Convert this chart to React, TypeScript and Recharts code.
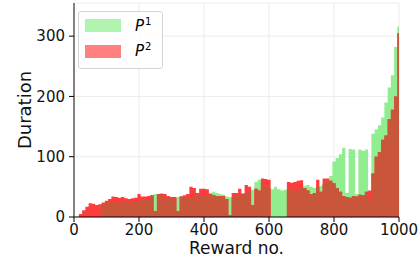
import React from 'react';
import { ComposedChart, Area, XAxis, YAxis, CartesianGrid, Legend } from 'recharts';

const rewardNo = [
  0, 10, 20, 30, 40, 50, 60, 70, 80, 90,
  100, 110, 120, 130, 140, 150, 160, 170, 180, 190,
  200, 210, 220, 230, 240, 250, 260, 270, 280, 290,
  300, 310, 320, 330, 340, 350, 360, 370, 380, 390,
  400, 410, 420, 430, 440, 450, 460, 470, 480, 490,
  500, 510, 520, 530, 540, 550, 560, 570, 580, 590,
  600, 610, 620, 630, 640, 650, 660, 670, 680, 690,
  700, 710, 720, 730, 740, 750, 760, 770, 780, 790,
  800, 810, 820, 830, 840, 850, 860, 870, 880, 890,
  900, 910, 920, 930, 940, 950, 960, 970, 980, 990,
  1000,
];

const p1Duration = [
  0, 0, 0, 0, 0, 0, 0, 0, 0, 22,
  23, 24, 25, 23, 24, 26, 25, 24, 25, 26,
  27, 28, 29, 30, 36, 38, 37, 36, 33, 31,
  30, 31, 33, 34, 32, 33, 32, 34, 35, 36,
  36, 36, 38, 42, 40, 38, 37, 34, 33, 32,
  36, 37, 38, 40, 42, 45, 58, 62, 56, 50,
  48, 46, 50, 46, 44, 45, 46, 45, 44, 46,
  48, 52, 53, 50, 48, 50, 52, 55, 60, 68,
  92, 98, 104, 115, 40, 113, 112, 38, 112, 110,
  112, 30, 138, 145, 152, 165, 190, 215, 235, 282,
  316,
];

const p2Duration = [
  0, 0, 5, 11, 17, 23, 22, 20, 21, 24,
  27, 30, 34, 33, 32, 33, 31, 30, 31, 32,
  38, 34, 34, 35, 36, 10, 38, 39, 38, 35,
  33, 33, 10, 34, 36, 38, 50, 48, 40, 47,
  47, 46, 39, 36, 35, 35, 35, 30, 3, 40,
  40, 47, 39, 53, 50, 20, 47, 44, 64, 63,
  62, 0, 0, 0, 0, 0, 58, 57, 58, 60,
  61, 48, 44, 38, 40, 62, 42, 64, 64, 60,
  56, 48, 42, 35, 33, 32, 35, 34, 37, 36,
  42, 44, 72, 100, 108, 128, 135, 162, 178, 200,
  305,
];

const xTicks = [0, 200, 400, 600, 800, 1000];
const yTicks = [0, 100, 200, 300];

const data = rewardNo.map((x, i) => ({
  x,
  p1: p1Duration[i],
  p2: p2Duration[i],
  both: Math.min(p1Duration[i], p2Duration[i]),
}));

const GREEN = '#90ee90';
const RED = '#ff3c3c';
const BROWN = '#c9553a';
const FONT = 'DejaVu Sans, sans-serif';

const LegendBox = () => (
  <div
    style={{
      position: 'relative',
      boxSizing: 'border-box',
      width: 85,
      height: 58,
      border: '1px solid #d4d4d4',
      borderRadius: 3,
      background: 'rgba(255,255,255,0.8)',
      fontFamily: FONT,
      color: '#000',
    }}
  >
    <div style={{ position: 'absolute', left: 6, top: 7, width: 36, height: 13, background: '#b1f4b1' }} />
    <div style={{ position: 'absolute', left: 6, top: 33, width: 36, height: 13, background: '#ff8080' }} />
    <div style={{ position: 'absolute', left: 56, top: 7, fontSize: 15, lineHeight: '15px', whiteSpace: 'nowrap' }}>
      <span style={{ fontStyle: 'italic' }}>P</span>
      <span style={{ fontSize: 10, position: 'relative', top: -6.5, marginLeft: 1 }}>1</span>
    </div>
    <div style={{ position: 'absolute', left: 56, top: 32, fontSize: 15, lineHeight: '15px', whiteSpace: 'nowrap' }}>
      <span style={{ fontStyle: 'italic' }}>P</span>
      <span style={{ fontSize: 10, position: 'relative', top: -6.5, marginLeft: 1 }}>2</span>
    </div>
  </div>
);

export default function App() {
  return (
    <div style={{ position: 'absolute', left: 0, top: 0, width: 419, height: 264, background: '#fff' }}>
      <ComposedChart
        width={419}
        height={264}
        data={data}
        margin={{ top: 3, right: 20, bottom: 0, left: 0 }}
      >
        <CartesianGrid stroke="#ebebeb" strokeWidth={1} />
        <XAxis
          dataKey="x"
          type="number"
          domain={[0, 1000]}
          ticks={xTicks}
          interval={0}
          height={47}
          tickSize={5}
          tickMargin={2}
          axisLine={{ stroke: '#000', strokeWidth: 1 }}
          tickLine={{ stroke: '#000' }}
          tick={{ fill: '#111', fontSize: 15, fontFamily: FONT }}
          label={() => (
            <text x={236.5} y={254} textAnchor="middle" fill="#111" fontSize={17} fontFamily={FONT}>
              Reward no.
            </text>
          )}
        />
        <XAxis xAxisId="top" orientation="top" type="number" domain={[0, 1000]} height={0} tick={false} tickLine={false} axisLine={{ stroke: '#000' }} />
        <YAxis
          type="number"
          domain={[0, 355]}
          allowDataOverflow
          ticks={yTicks}
          interval={0}
          width={74}
          tickSize={5}
          tickMargin={4}
          axisLine={{ stroke: '#444', strokeWidth: 1.3 }}
          tickLine={{ stroke: '#000' }}
          tick={{ fill: '#111', fontSize: 15, fontFamily: FONT }}
          label={() => (
            <text
              x={31}
              y={110}
              transform="rotate(-90, 31, 110)"
              textAnchor="middle"
              fill="#111"
              fontSize={18}
              fontFamily={FONT}
            >
              Duration
            </text>
          )}
        />
        <YAxis yAxisId="right" orientation="right" domain={[0, 355]} width={0} tick={false} tickLine={false} axisLine={{ stroke: '#000' }} />
        <Legend
          layout="horizontal"
          verticalAlign="middle"
          align="center"
          content={() => <LegendBox />}
          wrapperStyle={{ position: 'absolute', left: 78, top: 11, width: 85, height: 58 }}
        />
        <Area
          type="step"
          dataKey="p1"
          name="P1"
          stroke="none"
          fill={GREEN}
          fillOpacity={1}
          isAnimationActive={false}
          dot={false}
          activeDot={false}
        />
        <Area
          type="step"
          dataKey="p2"
          name="P2"
          stroke="none"
          fill={RED}
          fillOpacity={1}
          isAnimationActive={false}
          dot={false}
          activeDot={false}
        />
        <Area
          type="step"
          dataKey="both"
          name="overlap"
          legendType="none"
          stroke="none"
          fill={BROWN}
          fillOpacity={1}
          isAnimationActive={false}
          dot={false}
          activeDot={false}
        />
      </ComposedChart>
    </div>
  );
}
